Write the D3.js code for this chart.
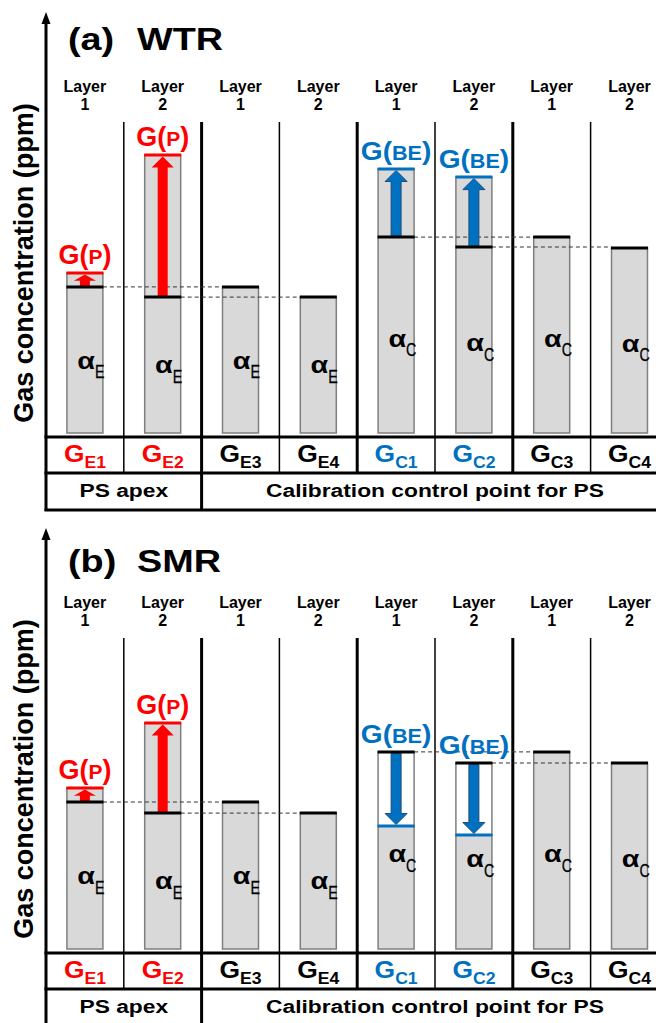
<!DOCTYPE html>
<html>
<head>
<meta charset="utf-8">
<script src="https://cdn.jsdelivr.net/npm/d3@7"></script>
<style>
  body { margin: 0; background: #fff; }
  text { font-family: "Liberation Sans", Arial, sans-serif; }
</style>
</head>
<body>
<svg id="chart" width="656" height="1023"></svg>
<script>
// columns of the schematic
const columns = ["E1", "E2", "E3", "E4", "C1", "C2", "C3", "C4"];
const layers = ["1", "2", "1", "2", "1", "2", "1", "2"];
const groupNames = ["PS apex", "Calibration control point for PS"];
const groupStart = [0, 2];
const groupEnd = [2, 8];
const panelTags = ["(a)", "(b)"];
const panelTitles = ["WTR", "SMR"];

// level of the black line (alpha) and the shifted level, arbitrary ppm units
const refWTR = [48.7, 45.3, 48.7, 45.3, 65.3, 62.0, 65.3, 61.7];
const shiftWTR = [53.3, 92.7, null, null, 88.0, 85.3, null, null];
const refSMR = [49.0, 45.3, 49.0, 45.3, 65.7, 62.0, 65.7, 62.0];
const shiftSMR = [53.7, 75.3, null, null, 41.0, 38.0, null, null];
const shiftNames = ["P", "P", null, null, "BE", "BE", null, null];

const red = "#ff0000";
const blue = "#0070c0";
const svg = d3.select("#chart");

const x = d3.scaleBand().domain(columns).range([46, 46 + 8 * 77.8]);
const y = d3.scaleLinear().domain([0, 100]).range([433, 133]);
const barW = 36;

function colorOf(i) {
  if (shiftNames[i] === "P") return red;
  if (shiftNames[i] === "BE") return blue;
  return "#000";
}

function arrowPath(cx, y0, y1) {
  const dir = y1 > y0 ? 1 : -1;
  const headL = Math.min(11, Math.abs(y1 - y0) * 0.55);
  const neck = y1 - dir * headL;
  return `M${cx - 5},${y0} L${cx - 5},${neck} L${cx - 11},${neck} L${cx},${y1} ` +
         `L${cx + 11},${neck} L${cx + 5},${neck} L${cx + 5},${y0} Z`;
}

function drawPanel(dy, ref, shift, tag, title, titleY) {
  const g = svg.append("g").attr("transform", `translate(0,${dy})`);
  const right = 656;

  // axis with arrow
  g.append("line")
    .attr("x1", 46).attr("x2", 46).attr("y1", 20).attr("y2", 511)
    .attr("stroke", "#000").attr("stroke-width", 3);
  g.append("path").attr("d", "M46,12 L41.5,24 L50.5,24 Z").attr("fill", "#000");

  g.append("text")
    .attr("transform", "translate(33,263) rotate(-90)")
    .attr("text-anchor", "middle")
    .attr("font-size", 27).attr("font-weight", "bold")
    .text("Gas concentration (ppm)");

  // title
  g.append("text").attr("transform", `translate(68,${titleY}) scale(1.22,1)`)
    .attr("font-size", 31).attr("font-weight", "bold").text(tag);
  g.append("text").attr("transform", `translate(137,${titleY}) scale(1.22,1)`)
    .attr("font-size", 31).attr("font-weight", "bold").text(title);

  // layer labels
  columns.forEach((c, i) => {
    const cx = x(c) + x.bandwidth() / 2;
    const t = g.append("text").attr("text-anchor", "middle")
      .attr("font-size", 16).attr("font-weight", "bold");
    t.append("tspan").attr("x", cx).attr("y", 92).text("Layer");
    t.append("tspan").attr("x", cx).attr("y", 110).text(layers[i]);
  });

  // column separators
  columns.slice(1).forEach((c, j) => {
    const thick = (j + 1) % 2 === 0;
    g.append("line")
      .attr("x1", x(c)).attr("x2", x(c)).attr("y1", 122).attr("y2", 473)
      .attr("stroke", "#000").attr("stroke-width", thick ? 3 : 1.5);
  });

  // bars
  columns.forEach((c, i) => {
    const bx = x(c) + (x.bandwidth() - barW) / 2;
    const r = ref[i], s = shift[i];
    const low = (s !== null && s < r) ? s : r;

    g.append("rect")
      .attr("x", bx).attr("y", y(low)).attr("width", barW).attr("height", y(0) - y(low))
      .attr("fill", "#d9d9d9").attr("stroke", "#7f7f7f").attr("stroke-width", 1.5);

    if (s !== null) {
      const top = Math.max(r, s), bot = Math.min(r, s);
      g.append("rect")
        .attr("x", bx).attr("y", y(top)).attr("width", barW).attr("height", y(bot) - y(top))
        .attr("fill", s > r ? "#d9d9d9" : "#fff")
        .attr("stroke", "#7f7f7f").attr("stroke-width", 1.5);
    }
  });

  // dashed guides between matching layers
  [0, 1, 4, 5].forEach(i => {
    const bx = x(columns[i]) + (x.bandwidth() - barW) / 2;
    const bx2 = x(columns[i + 2]) + (x.bandwidth() - barW) / 2;
    g.append("line")
      .attr("x1", bx + barW).attr("x2", bx2)
      .attr("y1", y(ref[i])).attr("y2", y(ref[i]))
      .attr("stroke", "#333").attr("stroke-width", 1).attr("stroke-dasharray", "4,3");
  });

  columns.forEach((c, i) => {
    const bx = x(c) + (x.bandwidth() - barW) / 2;
    const cx = bx + barW / 2;
    const r = ref[i], s = shift[i];
    const col = colorOf(i);

    if (s !== null) {
      const up = s > r;
      const y0 = up ? y(r) - 1 : y(r) + 1.5;
      const y1 = up ? y(s) + 1.5 : y(s) - 1.5;
      g.append("path").attr("d", arrowPath(cx, y0, y1))
        .attr("fill", col)
        .attr("stroke", col === blue ? "#1f4e79" : "none").attr("stroke-width", 1);
    }

    g.append("line")
      .attr("x1", bx - 0.5).attr("x2", bx + barW + 0.5)
      .attr("y1", y(r)).attr("y2", y(r))
      .attr("stroke", "#000").attr("stroke-width", 3);

    if (s !== null) {
      g.append("line")
        .attr("x1", bx - 0.5).attr("x2", bx + barW + 0.5)
        .attr("y1", y(s)).attr("y2", y(s))
        .attr("stroke", col).attr("stroke-width", 3);

      const big = shiftNames[i] === "P" ? 27 : 26;
      const small = shiftNames[i] === "P" ? 21 : 20;
      const t = g.append("text")
        .attr("transform", `translate(${cx},${y(Math.max(r, s)) - 9}) scale(${shiftNames[i] === "P" ? 1 : 1.08},1)`)
        .attr("text-anchor", "middle").attr("font-weight", "bold").attr("fill", col);
      t.append("tspan").attr("font-size", big).text("G(");
      t.append("tspan").attr("font-size", small).text(shiftNames[i]);
      t.append("tspan").attr("font-size", big).text(")");
    }

    // alpha label
    const ly = y(r * 0.44);
    g.append("text")
      .attr("transform", `translate(${cx + 10},${ly}) scale(1.2,1)`)
      .attr("text-anchor", "end").attr("font-size", 24).attr("font-weight", "bold")
      .text("\u03b1");
    g.append("text")
      .attr("transform", `translate(${cx + 10},${ly + 9.5}) scale(0.75,1)`)
      .attr("font-size", 19).attr("stroke", "#000").attr("stroke-width", 0.3)
      .text(c[0]);
  });

  // table
  [437, 473, 510].forEach(ty => {
    g.append("line").attr("x1", 44.5).attr("x2", right).attr("y1", ty).attr("y2", ty)
      .attr("stroke", "#000").attr("stroke-width", 3);
  });
  g.append("line")
    .attr("x1", x(columns[groupStart[1]])).attr("x2", x(columns[groupStart[1]]))
    .attr("y1", 473).attr("y2", 511)
    .attr("stroke", "#000").attr("stroke-width", 3);

  columns.forEach((c, i) => {
    const cx = x(c) + x.bandwidth() / 2;
    const t = g.append("text")
      .attr("transform", `translate(${cx},462) scale(1.1,1)`)
      .attr("text-anchor", "middle").attr("font-weight", "bold").attr("fill", colorOf(i));
    t.append("tspan").attr("font-size", 24).text("G");
    t.append("tspan").attr("font-size", 16).attr("dy", 6).text(c);
  });

  groupNames.forEach((name, k) => {
    const x0 = x(columns[groupStart[k]]);
    const x1 = groupEnd[k] < columns.length ? x(columns[groupEnd[k]]) : x.range()[1];
    g.append("text")
      .attr("transform", `translate(${(x0 + x1) / 2},497) scale(1.2,1)`)
      .attr("text-anchor", "middle").attr("font-size", 19).attr("font-weight", "bold")
      .text(name);
  });
}

drawPanel(0, refWTR, shiftWTR, panelTags[0], panelTitles[0], 50);
drawPanel(516, refSMR, shiftSMR, panelTags[1], panelTitles[1], 55.5);
</script>
</body>
</html>
